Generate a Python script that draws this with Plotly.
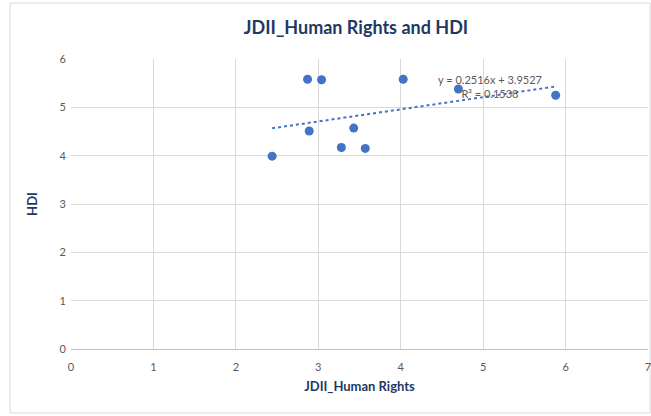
import plotly.graph_objects as go

# Data
human_rights = [2.87, 3.04, 4.03, 4.70, 5.88, 2.89, 3.43, 3.28, 3.57, 2.44]
hdi = [5.58, 5.57, 5.58, 5.38, 5.25, 4.51, 4.57, 4.17, 4.15, 3.99]
trend_slope = 0.2516
trend_intercept = 3.9527
r_squared = 0.1538
x_ticks = [0, 1, 2, 3, 4, 5, 6, 7]
y_ticks = [0, 1, 2, 3, 4, 5, 6]

navy = "#1F3864"
blue = "#4472C4"
gray_text = "#595959"
grid = "#D9D9D9"
font_family = "Lato, 'Open Sans', sans-serif"

fig = go.Figure()

tx = [min(human_rights), max(human_rights)]
ty = [trend_slope * v + trend_intercept for v in tx]
fig.add_trace(go.Scatter(
    x=tx, y=ty, mode="lines",
    line=dict(color=blue, width=2, dash="dot"),
    hoverinfo="skip", showlegend=False,
))

fig.add_trace(go.Scatter(
    x=human_rights, y=hdi, mode="markers",
    marker=dict(color=blue, size=9),
    showlegend=False,
))

fig.add_annotation(
    x=5.08, y=5.43, xref="x", yref="y",
    text=f"y = {trend_slope}x + {trend_intercept}<br>R² = {r_squared}",
    showarrow=False, align="center",
    font=dict(family=font_family, size=11, color=gray_text),
)

fig.update_layout(
    width=651, height=416,
    margin=dict(l=71, r=3, t=59, b=67, autoexpand=False),
    paper_bgcolor="white", plot_bgcolor="white",
    font=dict(family=font_family, color=gray_text, size=11),
    title=dict(
        text="<b>JDII_Human Rights and HDI</b>",
        x=356 / 651, xanchor="center",
        y=1 - 28 / 416, yanchor="middle",
        font=dict(family=font_family, size=18, color=navy),
    ),
    xaxis=dict(
        range=[0, 7], tickvals=x_ticks, showgrid=True, gridcolor=grid, gridwidth=1,
        zeroline=False, showline=True, linecolor="#BFBFBF", linewidth=1,
        ticks="", tickfont=dict(size=11, color=gray_text), automargin=False,
        ticklabeloverflow="allow", ticklabelstandoff=8,
        title=dict(text="<b>JDII_Human Rights</b>", standoff=9,
                   font=dict(family=font_family, size=13, color=navy)),
    ),
    yaxis=dict(
        range=[0, 6], tickvals=y_ticks, showgrid=True, gridcolor=grid, gridwidth=1,
        zeroline=False, showline=False,
        ticks="", tickfont=dict(size=11, color=gray_text), automargin=False,
        ticklabeloverflow="allow", ticklabelstandoff=4,
        title=dict(text="<b>HDI</b>", standoff=19,
                   font=dict(family=font_family, size=13, color=navy)),
    ),
    shapes=[dict(
        type="rect", xref="paper", yref="paper",
        x0=(10 - 71) / 577, x1=(650 - 71) / 577,
        y0=(349 - 413) / 290, y1=(349 - 3) / 290,
        line=dict(color="#D9D9D9", width=1), fillcolor="rgba(0,0,0,0)",
        layer="below",
    )],
)

fig.write_html(
    "out.html",
    config={"displayModeBar": False},
    post_script="document.body.style.margin='0px';document.body.style.overflow='hidden';",
)
